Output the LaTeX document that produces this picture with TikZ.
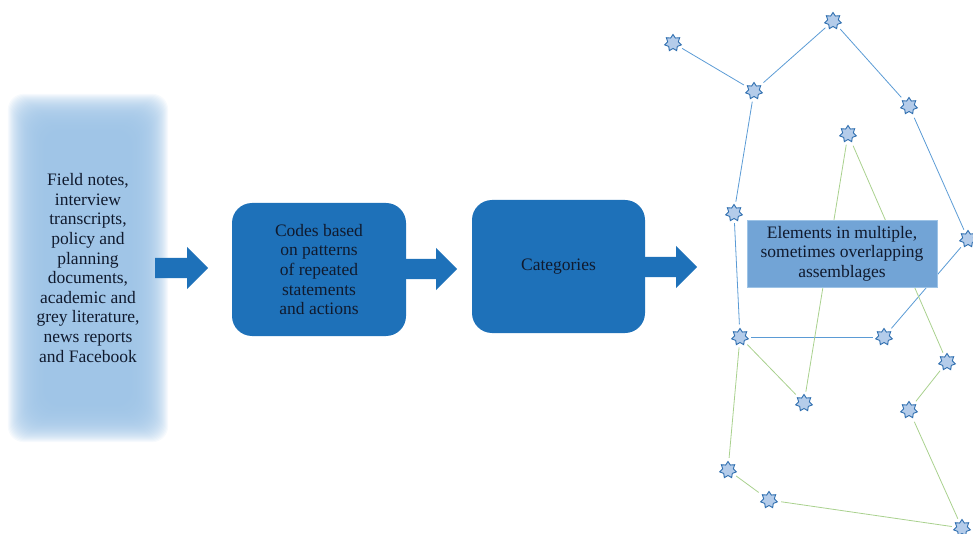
\documentclass[tikz,border=0pt]{standalone}
\usepackage{fontspec}
\setmainfont{Liberation Serif}
\usetikzlibrary{shapes.geometric, shapes.arrows, positioning, backgrounds}
\definecolor{myblue}{RGB}{30,113,185}
\definecolor{mylight}{RGB}{157,195,230}
\definecolor{mymid}{RGB}{114,164,214}
\definecolor{mytext}{RGB}{16,26,46}
\definecolor{myline}{RGB}{91,155,213}
\definecolor{mygreen}{RGB}{169,209,142}
\definecolor{mystar}{RGB}{180,204,234}
\definecolor{mystarline}{RGB}{46,110,175}
\tikzset{
  block/.style={rectangle, fill=myblue, text=mytext, align=center,
    minimum width=174pt, minimum height=133pt, rounded corners=20pt,
    font=\fontsize{17.5}{19.6}\selectfont},
  srcblock/.style={rectangle, text=mytext, align=center,
    minimum width=124pt, minimum height=312pt,
    font=\fontsize{17.5}{19.6}\selectfont},
  tagblock/.style={rectangle, fill=mymid, draw=mylight, line width=0.6pt,
    text=mytext, align=center, minimum width=190pt, minimum height=67pt,
    font=\fontsize{17.5}{19.6}\selectfont},
  bigarrow/.style={single arrow, fill=myblue, inner sep=0pt,
    text height=20pt, text depth=0pt, anchor=tail,
    single arrow head extend=11pt, single arrow tip angle=90},
  elem/.style={star, star points=7, star point ratio=1.55,
    minimum size=17pt, inner sep=0pt, fill=mystar, draw=mystarline,
    line width=0.9pt},
  blueedge/.style={myline, line width=0.8pt, shorten >=4pt, shorten <=4pt},
  greenedge/.style={mygreen, line width=0.8pt, shorten >=4pt, shorten <=4pt}
}

\begin{document}
\begin{tikzpicture}[x=1pt, y=-1pt]
  \useasboundingbox (0,0) rectangle (973,534);

  % data sources, soft edged
  \node[srcblock] (src) at (88,268) {Field notes,\\interview\\transcripts,\\policy and\\planning\\documents,\\academic and\\grey literature,\\news reports\\and Facebook};
  \begin{scope}[on background layer]
    \foreach \g in {-18,-17,...,18}
      \fill[mylight, opacity=0.085, rounded corners=16pt]
        ([shift={(-\g pt,\g pt)}]src.north west) rectangle ([shift={(\g pt,-\g pt)}]src.south east);
  \end{scope}

  \node[block] (codes) at (319,269.5) {Codes based\\on patterns\\of repeated\\statements\\and actions};
  \node[block, minimum width=173pt] (cats) at (558.5,266.5) {Categories};

  \node[bigarrow, minimum height=53pt] (arr1) at (155,268) {};
  \node[bigarrow, minimum height=52pt] (arr2) at (405,269) {};
  \node[bigarrow, minimum height=54pt] (arr3) at (643,267) {};

  % elements
  \node[elem] (e1) at (673,43) {};
  \node[elem] (e2) at (833,21) {};
  \node[elem] (e3) at (754,91) {};
  \node[elem] (e4) at (909,106) {};
  \node[elem] (e5) at (848,134) {};
  \node[elem] (e6) at (734,213) {};
  \node[elem] (e7) at (968,239) {};
  \node[elem] (e8) at (740,337) {};
  \node[elem] (e9) at (884,337) {};
  \node[elem] (e10) at (947,362) {};
  \node[elem] (e11) at (804,403) {};
  \node[elem] (e12) at (909,410) {};
  \node[elem] (e13) at (728,470) {};
  \node[elem] (e14) at (769,500) {};
  \node[elem] (e15) at (962,528) {};

  \begin{scope}[on background layer]
    \foreach \a/\b in {e1/e3, e3/e2, e2/e4, e3/e6, e4/e7, e6/e8, e8/e9, e9/e7}
      \draw[blueedge] (\a) -- (\b);
    \foreach \a/\b in {e5/e11, e5/e10, e8/e11, e8/e13, e10/e12, e12/e15, e13/e14, e14/e15}
      \draw[greenedge] (\a) -- (\b);
  \end{scope}

  \node[tagblock] (tag) at (842,253.5) {Elements in multiple,\\sometimes overlapping\\assemblages};
\end{tikzpicture}
\end{document}
